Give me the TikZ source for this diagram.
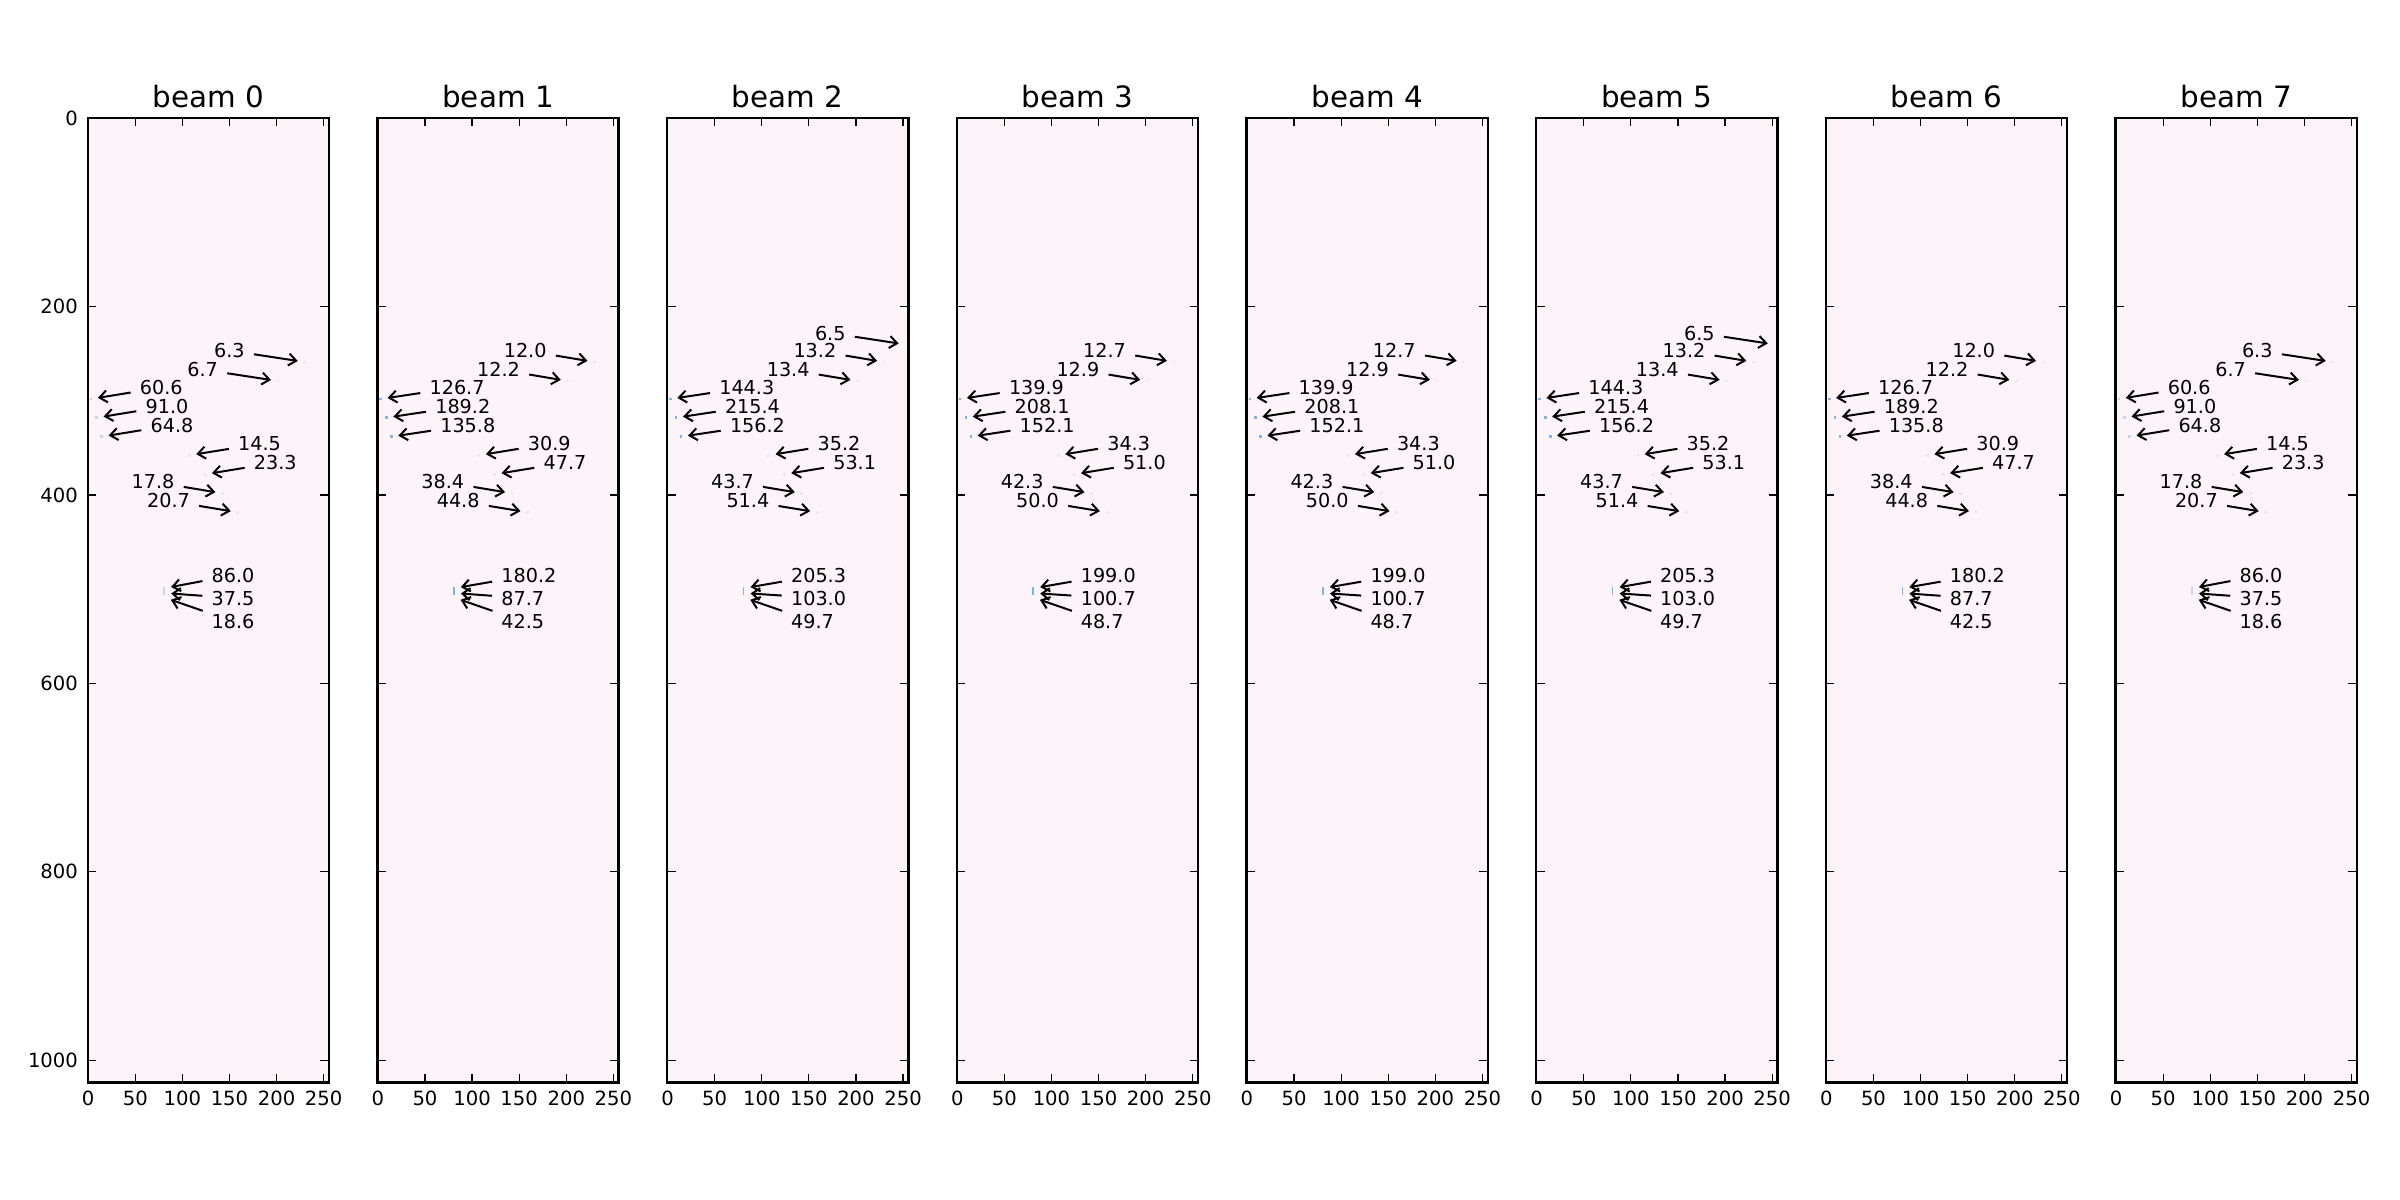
\documentclass[tikz,border=0pt]{standalone}
\usepackage{fontspec}
\setmainfont{DejaVu Sans}
\usetikzlibrary{arrows.meta}
\definecolor{bgpink}{RGB}{253,244,249}
\definecolor{dotfaint}{RGB}{230,231,244}
\definecolor{dotmid}{RGB}{200,213,234}
\definecolor{dotblue}{RGB}{135,180,214}
\tikzset{
  lbl/.style={inner sep=0pt, anchor=base west, font=\fontsize{9.6}{11}\selectfont},
  ticklbl/.style={inner sep=0pt, font=\fontsize{9.8}{11}\selectfont},
  ttl/.style={inner sep=0pt, anchor=base, font=\fontsize{14.7}{17}\selectfont},
  arr/.style={-{Straight Barb[length=3.8pt,width=6pt]}, line width=1pt, shorten <=4.5pt, shorten >=3.5pt},
  frameline/.style={line width=1.2pt},
  tickline/.style={line width=0.6pt},
}
% #1 name, #2 text, #3 target x, #4 target y, #5 text x, #6 text baseline y  (x relative to panel left)
\newcommand\ann[6]{%
  \coordinate (p#1) at ({\PL+#3},#4);
  \node[lbl] (t#1) at ({\PL+#5},#6) {#2};
  \draw[arr] (t#1) -- (p#1);
}
% text to the left of the target, arrow points right
\newcommand\annL[4]{\ann{#1}{#2}{#3}{#4}{#3-91}{#4-4.5}}
% text to the right of the target, arrow points left
\newcommand\annR[4]{\ann{#1}{#2}{#3}{#4}{#3+48.5}{#4-4.5}}
\newcommand\pdot[3]{\fill[fill=#3] ({\PL+#1-1.3},{#2-1.3}) rectangle ({\PL+#1+1.3},{#2+1.3});}
\begin{document}
\begin{tikzpicture}[x=0.5pt,y=-0.5pt]
\fill[white] (0,0) rectangle (2400,1200);
\useasboundingbox (0,0) rectangle (2400,1200);
\foreach \k/\qa/\qb/\qc/\qd/\qe/\qf/\qg/\qh/\qi/\qj/\qk/\ql/\dc in {
 0/6.3/6.7/60.6/91.0/64.8/14.5/23.3/17.8/20.7/86.0/37.5/18.6/dotmid,
 1/12.0/12.2/126.7/189.2/135.8/30.9/47.7/38.4/44.8/180.2/87.7/42.5/dotblue,
 2/13.2/13.4/144.3/215.4/156.2/35.2/53.1/43.7/51.4/205.3/103.0/49.7/dotblue,
 3/12.7/12.9/139.9/208.1/152.1/34.3/51.0/42.3/50.0/199.0/100.7/48.7/dotblue,
 4/12.7/12.9/139.9/208.1/152.1/34.3/51.0/42.3/50.0/199.0/100.7/48.7/dotblue,
 5/13.2/13.4/144.3/215.4/156.2/35.2/53.1/43.7/51.4/205.3/103.0/49.7/dotblue,
 6/12.0/12.2/126.7/189.2/135.8/30.9/47.7/38.4/44.8/180.2/87.7/42.5/dotblue,
 7/6.3/6.7/60.6/91.0/64.8/14.5/23.3/17.8/20.7/86.0/37.5/18.6/dotmid}
{
  \pgfmathsetmacro\PL{87.7+289.7*\k}
  \pgfmathsetmacro\PR{\PL+241.2}
  \fill[bgpink] (\PL,117.7) rectangle (\PR,1082.3);
  % data points
  \pdot{217}{362}{dotfaint}
  \pdot{190.3}{381}{dotfaint}
  \pdot{3.3}{399}{\dc}
  \pdot{9}{417.7}{\dc}
  \pdot{14}{436.7}{\dc}
  \pdot{101.6}{455.3}{dotfaint}
  \pdot{117.3}{474.3}{dotfaint}
  \pdot{134.6}{493.3}{dotfaint}
  \pdot{150}{512.3}{dotfaint}
  \fill[fill=\dc] ({\PL+75.6},586.5) rectangle ({\PL+77.2},594.5);
  % ticks
  \foreach \v in {0,50,...,250}{
    \pgfmathsetmacro\xx{\PL+0.942*(\v+0.5)}
    \draw[tickline] (\xx,1082.3) -- ++(0,-8.5);
    \draw[tickline] (\xx,117.7) -- ++(0,8.5);
    \node[ticklbl, anchor=north] (xl\k-\v) at (\xx,1090.3) {\v};
  }
  \foreach \v in {0,200,...,1000}{
    \pgfmathsetmacro\yy{117.7+0.942*(\v+0.5)}
    \draw[tickline] (\PL,\yy) -- ++(8.5,0);
    \draw[tickline] (\PR,\yy) -- ++(-8.5,0);
    \ifnum\k=0
      \node[ticklbl, anchor=east] (yl-\v) at ({\PL-9.4},\yy) {\v};
    \fi
  }
  \draw[frameline] (\PL,117.7) rectangle (\PR,1082.3);
  \node[ttl] (title\k) at ({\PL+120.6},107.3) {beam \k};
  % annotations
  \ifnum\k=2 \annL{\k-a0}{6.5}{238.5}{344.5}\fi
  \ifnum\k=5 \annL{\k-a0}{6.5}{238.5}{344.5}\fi
  \annL{\k-a1}{\qa}{217}{362}
  \annL{\k-a2}{\qb}{190.3}{381}
  \annR{\k-b1}{\qc}{3.3}{399}
  \annR{\k-b2}{\qd}{9}{417.7}
  \annR{\k-b3}{\qe}{14}{436.7}
  \annR{\k-c1}{\qf}{101.6}{455.3}
  \annR{\k-c2}{\qg}{117.3}{474.3}
  \annL{\k-d1}{\qh}{134.6}{493.3}
  \annL{\k-d2}{\qi}{150}{512.3}
  \ann{\k-e1}{\qj}{76.5}{588.3}{123.6}{582.3}
  \ann{\k-e2}{\qk}{76.5}{593}{123.6}{605}
  \ann{\k-e3}{\ql}{76.5}{597.5}{123.6}{628.3}
}
\end{tikzpicture}
\end{document}
